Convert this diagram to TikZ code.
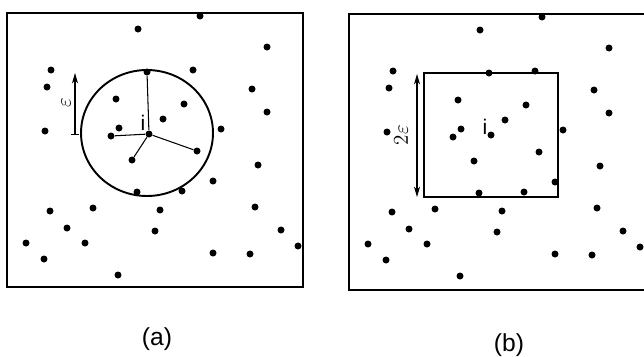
\documentclass[tikz,border=0pt]{standalone}
\usepackage{fontspec}
\setmainfont{Liberation Sans}
\usetikzlibrary{arrows.meta}

\begin{document}
\begin{tikzpicture}[x=0.02cm, y=-0.02cm,
    pt/.style={circle, fill, inner sep=0pt, minimum size=0.14cm},
    frame/.style={line width=1.1pt},
    spoke/.style={line width=0.6pt},
    caption/.style={font=\fontsize{14}{16}\selectfont}]
  \useasboundingbox (0,0) rectangle (644,356);
  % Frames
  \draw[frame] (7,13) rectangle (303,287);
  \draw[frame] (646,14) -- (349,14) -- (349,290) -- (646,290);
  % Points, the same cloud in both panels
  \foreach \p/\dx/\dy in {a/0/0, b/342/1}{
    \begin{scope}[shift={(\dx,\dy)}]
      \foreach \n/\x/\y in {i/149/134, up/147/72, lf/111/136, dn/132/160, rt/197/151}
        \node[pt] (\p-\n) at (\x,\y) {};
      \foreach \x/\y [count=\k] in {200/16, 138/29, 267/47, 51/70, 193/70, 47/87,
          252/89, 116/99, 184/104, 267/112, 163/119, 119/128, 221/129, 45/131,
          258/165, 213/181, 137/192, 182/191, 50/211, 93/208, 160/210, 255/207,
          67/228, 155/231, 281/230, 26/243, 85/243, 298/246, 44/259, 213/253,
          250/254, 118/275}
        \node[pt] (\p\k) at (\x,\y) {};
    \end{scope}
  }
  % Ball around i in (a)
  \coordinate (ca) at (147,133);
  \draw[frame] (ca) ellipse [x radius=1.32cm, y radius=1.26cm];
  \draw[spoke] (a-i) -- (a-up);
  \draw[spoke] (a-i) -- (a-lf);
  \draw[spoke] (a-i) -- (a-dn);
  \draw[spoke] (a-i) -- (a-rt);
  \node[font=\large] (ia) at (143,123) {i};
  % Box around i in (b)
  \draw[frame] (424,73) rectangle (558,197);
  \node[font=\large] (ib) at (485,127) {i};
  % Radius marks
  \coordinate (ra0) at (75,135);
  \coordinate (ra1) at (75,73);
  \draw[spoke, {Bar[width=4pt]}-{Stealth[length=6pt, width=3.5pt]}] (ra0) -- (ra1);
  \node[rotate=90, font=\large] (eps) at (66,103) {$\varepsilon$};
  \coordinate (rb0) at (417,74);
  \coordinate (rb1) at (417,197);
  \draw[spoke, {Stealth[length=6pt, width=3.5pt]}-{Stealth[length=6pt, width=3.5pt]}] (rb0) -- (rb1);
  \node[rotate=90, font=\large] (eps2) at (401,135) {$2\varepsilon$};
  % Captions
  \node[caption] (capa) at (157,339) {(a)};
  \node[caption] (capb) at (509,345) {(b)};
\end{tikzpicture}
\end{document}
